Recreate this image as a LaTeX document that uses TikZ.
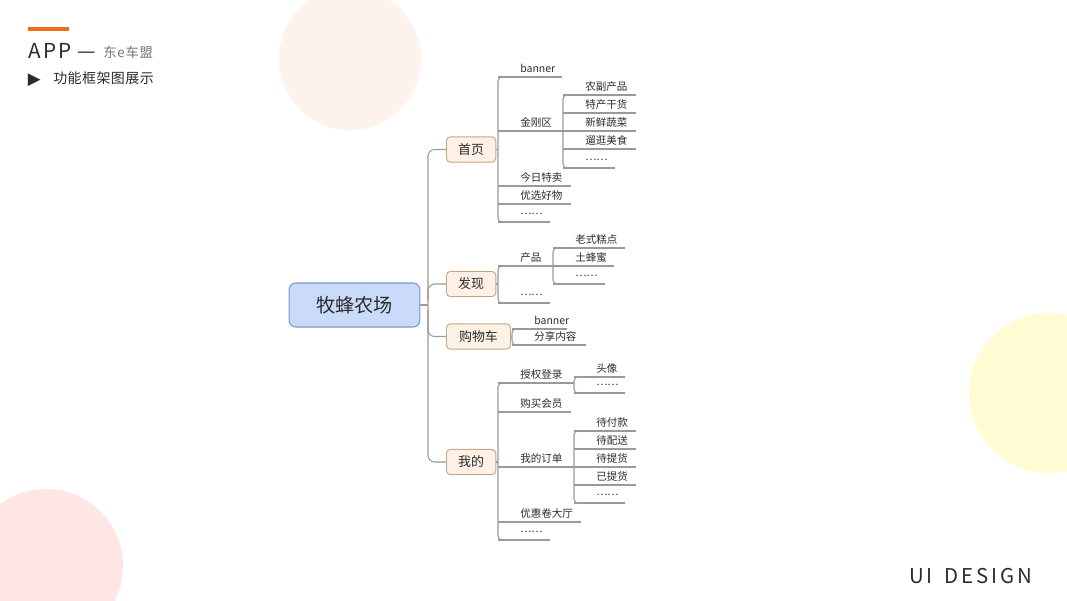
\documentclass[tikz,border=0pt]{standalone}
\usepackage{fontspec}
\setmainfont{Noto Sans CJK SC}
\newfontfamily\cjk{Noto Sans CJK SC}
\newfontfamily\symf{DejaVu Sans}
\definecolor{lnc}{HTML}{9A9A9A}
\definecolor{txc}{HTML}{2B2B2B}
\definecolor{lfill}{HTML}{FDF1E6}
\definecolor{ldraw}{HTML}{C4A68A}
\definecolor{rfill}{HTML}{C9DBF8}
\definecolor{rdraw}{HTML}{7B98C8}
\definecolor{orng}{HTML}{F26A1B}
\definecolor{peach}{HTML}{FDF3EC}
\definecolor{pinkc}{HTML}{FDE6E4}
\definecolor{yelc}{HTML}{FEFCD2}
\tikzset{
  ln/.style={draw=lnc, line width=0.8pt, rounded corners=3pt},
  lt/.style={font=\cjk\fontsize{7.9pt}{9pt}\selectfont, text=txc, inner sep=0pt, anchor=base west},
  lvone/.style={draw=ldraw, fill=lfill, rounded corners=3pt, line width=0.7pt, font=\cjk\fontsize{9.7pt}{11pt}\selectfont, text=txc, inner sep=0pt, minimum height=19pt, anchor=west},
  rootbox/.style={draw=rdraw, fill=rfill, rounded corners=5pt, line width=0.8pt, font=\cjk\fontsize{14.4pt}{16pt}\selectfont, text=txc, inner sep=0pt, minimum width=98pt, minimum height=33pt},
}
\newcommand\leaf[5]{% name, x0, x1, y, text
  \draw[ln] (#2,#4) -- (#3,#4);
  \node[lt] (#1) at ([xshift=16.5pt]#2,#4-5) {#5};
}
\newcommand\dleaf[4]{% name, x0, x1, y  (ellipsis item)
  \draw[ln] (#2,#4) -- (#3,#4);
  \node[lt] (#1) at ([xshift=16.5pt]#2,#4-8) {……};
}
\begin{document}
\begin{tikzpicture}[x=0.75pt, y=-0.75pt]
\useasboundingbox (0,0) rectangle (1067,600);
% background circles
\fill[peach] (350,59) circle (71);
\fill[pinkc] (46,566) circle (77);
\fill[yelc] (1049,393) circle (80);
% header
\fill[orng] (28,26.5) rectangle (69,31);
\node[anchor=base west, inner sep=0pt, text=txc, font=\cjk\fontsize{15.5pt}{17pt}\selectfont\addfontfeatures{LetterSpace=12}] (app) at (28,58) {APP};
\node[anchor=base west, inner sep=0pt, text=txc, font=\cjk\fontsize{15.5pt}{17pt}\selectfont] (dash) at (77,58) {—};
\node[anchor=base west, inner sep=0pt, text=black!55, font=\cjk\fontsize{10pt}{11pt}\selectfont\addfontfeatures{LetterSpace=6}] (brand) at (103,57.5) {东e车盟};
\node[anchor=base west, inner sep=0pt, text=txc, font=\symf\fontsize{12.5pt}{13pt}\selectfont] (tri) at (27.5,84) {▶};
\node[anchor=base west, inner sep=0pt, text=txc, font=\cjk\fontsize{10.5pt}{12pt}\selectfont\addfontfeatures{LetterSpace=3}] (sub) at (53,83) {功能框架图展示};
\node[anchor=base west, inner sep=0pt, text=txc, font=\cjk\fontsize{15.3pt}{17pt}\selectfont\addfontfeatures{LetterSpace=14}] (ui) at (909,583) {UI\hspace{9pt}DESIGN};
% root and level one
\node[rootbox] (root) at (354.5,305) {牧蜂农场};
\node[lvone, minimum width=37pt] (home) at (446,149.5) {首页};
\node[lvone, minimum width=37pt] (disc) at (446,284) {发现};
\node[lvone, minimum width=48pt] (cart) at (446,336.5) {购物车};
\node[lvone, minimum width=37pt] (mine) at (446,462) {我的};
\coordinate (tk) at (428,305);
\draw[ln, rounded corners=5pt] (home.west) -| (tk) |- (mine.west);
\draw[ln] (root.east) -- (tk);
\draw[ln, rounded corners=5pt] (428,300) |- (disc.west);
\draw[ln, rounded corners=5pt] (428,310) |- (cart.west);
% ---- 首页
\draw[ln] (home.east) -- (498,149.5);
\draw[ln] (562,77) -- (498,77) -- (498,222) -- (550,222);
\leaf{h1}{498}{562}{77}{banner}
\leaf{h2}{498}{563}{131}{金刚区}
\leaf{h3}{498}{571}{186}{今日特卖}
\leaf{h4}{498}{571}{204}{优选好物}
\dleaf{h5}{498}{550}{222}
\draw[ln] (636,95) -- (563,95) -- (563,168) -- (615,168);
\leaf{k1}{563}{636}{95}{农副产品}
\leaf{k2}{563}{636}{113}{特产干货}
\leaf{k3}{563}{636}{131}{新鲜蔬菜}
\leaf{k4}{563}{636}{149}{遛逛美食}
\dleaf{k5}{563}{615}{168}
% ---- 发现
\draw[ln] (disc.east) -- (498,284);
\draw[ln] (553,266) -- (498,266) -- (498,303) -- (550,303);
\leaf{d1}{498}{553}{266}{产品}
\dleaf{d2}{498}{550}{303}
\draw[ln] (625,248) -- (553,248) -- (553,284) -- (605,284);
\leaf{p1}{553}{625}{248}{老式糕点}
\leaf{p2}{553}{614}{266}{土蜂蜜}
\dleaf{p3}{553}{605}{284}
% ---- 购物车
\draw[ln] (cart.east) -- (512,336.5);
\draw[ln] (567,329) -- (512,329) -- (512,345) -- (586,345);
\leaf{c1}{512}{567}{329}{banner}
\leaf{c2}{512}{586}{345}{分享内容}
% ---- 我的
\draw[ln] (mine.east) -- (498,462);
\draw[ln] (574,383) -- (498,383) -- (498,540) -- (550,540);
\leaf{m1}{498}{574}{383}{授权登录}
\leaf{m2}{498}{571}{412}{购买会员}
\leaf{m3}{498}{574}{467}{我的订单}
\leaf{m4}{498}{581}{522}{优惠卷大厅}
\dleaf{m5}{498}{550}{540}
\draw[ln] (625,377) -- (574,377) -- (574,393) -- (625,393);
\leaf{a1}{574}{625}{377}{头像}
\dleaf{a2}{574}{625}{393}
\draw[ln] (636,431) -- (574,431) -- (574,503) -- (625,503);
\leaf{o1}{574}{636}{431}{待付款}
\leaf{o2}{574}{636}{449}{待配送}
\leaf{o3}{574}{636}{467}{待提货}
\leaf{o4}{574}{636}{485}{已提货}
\dleaf{o5}{574}{625}{503}
\end{tikzpicture}
\end{document}
